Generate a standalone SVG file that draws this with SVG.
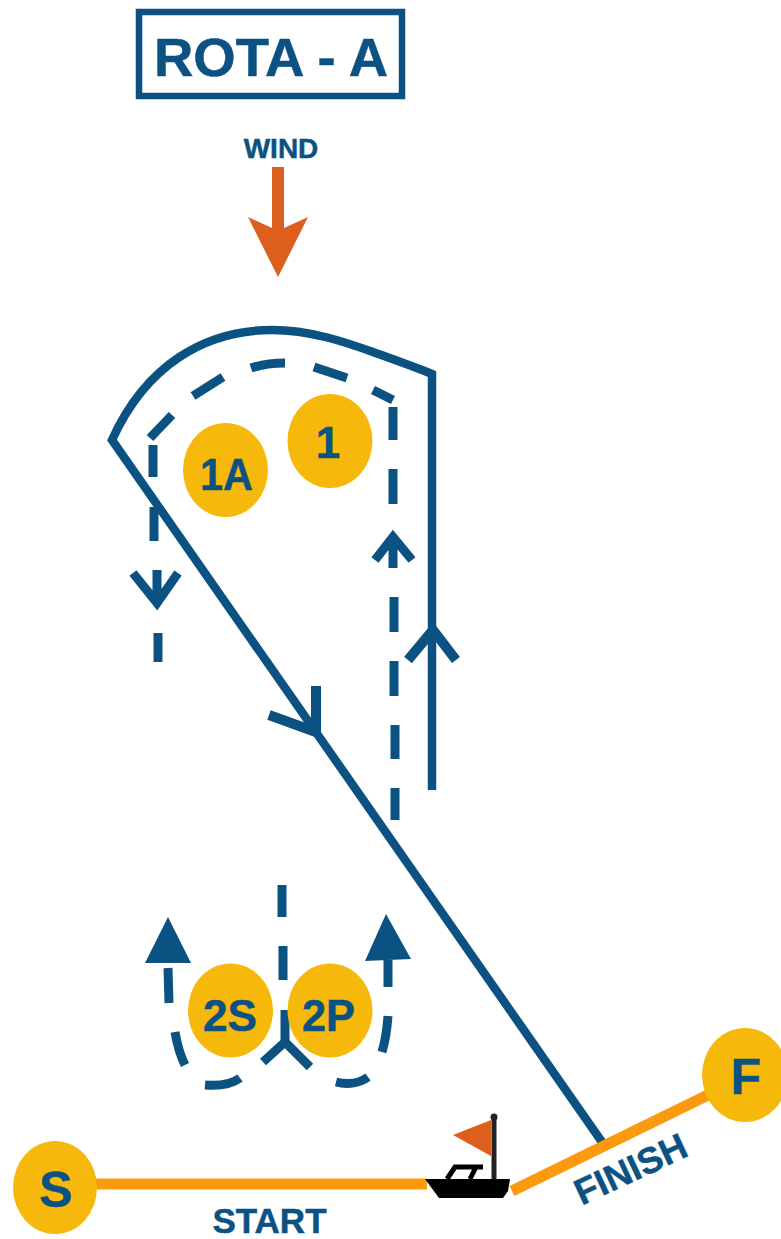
<svg xmlns="http://www.w3.org/2000/svg" width="781" height="1239" viewBox="0 0 781 1239">
<style>
.l{fill:none;stroke:#0b5283;stroke-width:8.500}
.h{fill:none;stroke:#0b5283;stroke-width:10}
.d{fill:none;stroke:#0b5283;stroke-width:9}
.o{fill:none;stroke:#fb9a0e;stroke-width:11}
.m{fill:#f6b80a}
.t{font-family:"Liberation Sans",Arial,sans-serif;font-weight:700;fill:#0b5283;text-anchor:middle;stroke:#0b5283;stroke-width:.5}
.a{fill:#0b5283}
</style>
<rect width="781" height="1239" fill="#fff"/>
<g id="title"><rect x="139" y="12" width="263" height="84" fill="none" stroke="#0b5283" stroke-width="6.500"/><text class="t" x="271" y="76" font-size="54.500">ROTA - A</text></g>
<g id="wind"><text class="t" x="281" y="158" font-size="28">WIND</text><path d="M272 167H284V228L308 217L278 277L248 217L272 228Z" fill="#dc5f1d"/></g>
<g id="connectors">
<path class="l" d="M602 1142L112 440C146 365 205 330 272 330C310 330 345 342 373 352C395 360 415 367 432 374V790"/>
<path class="h" d="M408 660L433 630L456 660M269 715L316 732V686"/>
<path class="d" d="M153 445V477M150 438L172 415M193 396L223 377M251 368C263 364 275 363 285 363M314 367L347 378M373 390L393 400M393 407V440M393 469V504M393 568V538M375 560L393 537L412 560M394 597V632M394 661V696M395 725V759M395 788V820M154 507V541M157 570V601M133 573L157 603L178 573M158 633V662"/>
<path class="d" d="M282 885V917M283 946V980M285 1010V1043M285 1042L263 1062M285 1042L310 1067M168 968L169 1003M175 1032C177 1044 180 1055 185 1065M205 1085C218 1086 232 1084 240 1078M336 1082C348 1085 360 1083 368 1077M388 1016C387 1030 385 1042 382 1052M388 960V987"/>
<path class="a" d="M168 917L191 963H145ZM386 914L411 959L365 961Z"/>
<path class="o" d="M95 1184H427M512 1191L708 1095"/>
</g>
<g id="n1A"><ellipse class="m" cx="225.500" cy="470" rx="42.500" ry="47"/><text class="t" x="226.500" y="490" font-size="45" textLength="53" lengthAdjust="spacingAndGlyphs">1A</text></g>
<g id="n1"><ellipse class="m" cx="330" cy="441" rx="42.500" ry="47"/><text class="t" x="328" y="458" font-size="44">1</text></g>
<g id="n2S"><ellipse class="m" cx="230.500" cy="1010.500" rx="42.500" ry="47"/><text class="t" x="230" y="1031" font-size="44" textLength="54" lengthAdjust="spacingAndGlyphs">2S</text></g>
<g id="n2P"><ellipse class="m" cx="330" cy="1010.500" rx="42.500" ry="47"/><text class="t" x="328.500" y="1031" font-size="44" textLength="53" lengthAdjust="spacingAndGlyphs">2P</text></g>
<g id="nS"><ellipse class="m" cx="55" cy="1187.500" rx="42" ry="46.500"/><text class="t" x="56" y="1207" font-size="50">S</text></g>
<g id="nF"><ellipse class="m" cx="745" cy="1075" rx="43" ry="47"/><text class="t" x="746" y="1094" font-size="50">F</text></g>
<g id="boat">
<path d="M425 1179H510L508 1191L503 1198H439Z" fill="#000"/>
<path d="M447 1179L455 1167H483M476 1167L470 1179" fill="none" stroke="#000" stroke-width="5"/>
<path d="M494 1117V1179" stroke="#222" stroke-width="5"/><circle cx="494" cy="1117" r="3.500" fill="#222"/>
<path d="M491 1120V1156L453 1135Z" fill="#dc5f1d"/>
</g>
<g id="labels">
<text class="t" x="269.500" y="1233" font-size="35">START</text>
<text class="t" transform="translate(636 1180.500) rotate(-25)" font-size="36.500">FINISH</text>
</g>
</svg>
